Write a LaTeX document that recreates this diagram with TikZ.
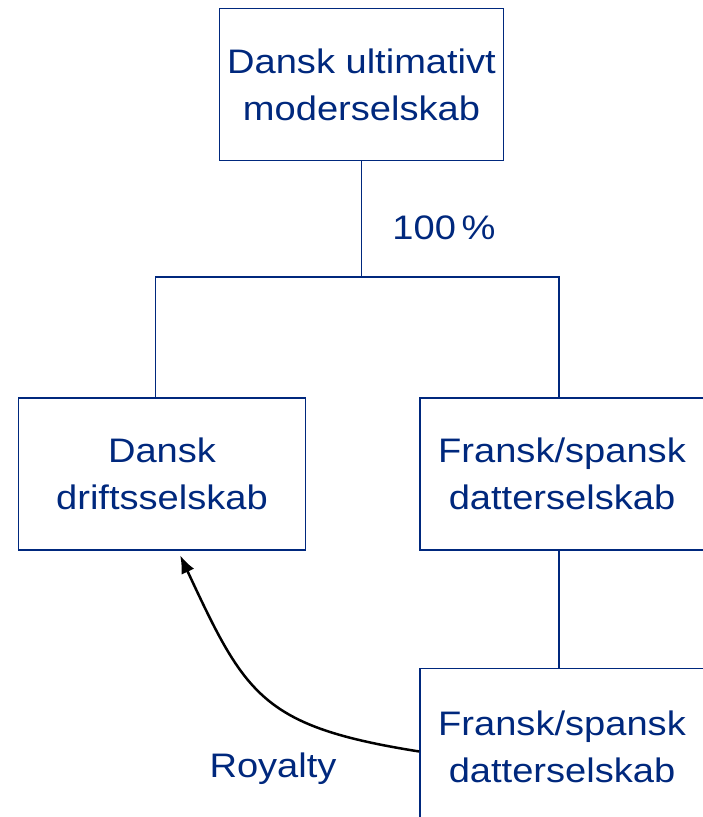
\documentclass[tikz,border=0pt]{standalone}
\usepackage{fontspec}
\setmainfont{Liberation Sans}[FakeStretch=1.12]
\usepackage{tikz}
\usetikzlibrary{positioning,arrows.meta}
\definecolor{navy}{RGB}{0,40,125}

\begin{document}
\begin{tikzpicture}[x=1pt, y=1pt, node distance = 113pt,
    font=\fontsize{34}{47}\selectfont, text=navy,
    box/.style={draw=navy, line width=1.5pt, minimum width=284pt,
                minimum height=152pt, inner sep=0pt, align=center},
    link/.style={draw=navy, line width=1.5pt}]
    \useasboundingbox (0,0) rectangle (702,817);
    \node[box] (M) at (361.5,732.5) {Dansk ultimativt\\moderselskab};
    \node[box] (F1) at (562,343) {Fransk/spansk\\datterselskab};
    \node[box, minimum width=287pt] (D) [left=of F1] {Dansk\\driftsselskab};
    \node[box, minimum height=156pt] (F2) [below=117pt of F1] {Fransk/spansk\\datterselskab};
    \coordinate (S) at ([yshift=-116pt]M.south);
    \node[anchor=base] (P) at (444,577) {100\,\%};
    \node[anchor=base] (R) at (273,39) {Royalty};
    \draw[link] (M.south) -- (S);
    \draw[link] ([xshift=-6.5pt]D.north) |- (S) -| ([xshift=-3pt]F1.north);
    \draw[link] ([xshift=-3pt]F1.south) -- ([xshift=-3pt]F2.north);
    \draw[line width=2.5pt, -{Latex[length=18pt,width=14pt]}, shorten >=5pt]
          ([yshift=-5pt]F2.west) to[out=171, in=-65, looseness=1.3] ([xshift=16pt]D.south);
  \end{tikzpicture}
\end{document}
